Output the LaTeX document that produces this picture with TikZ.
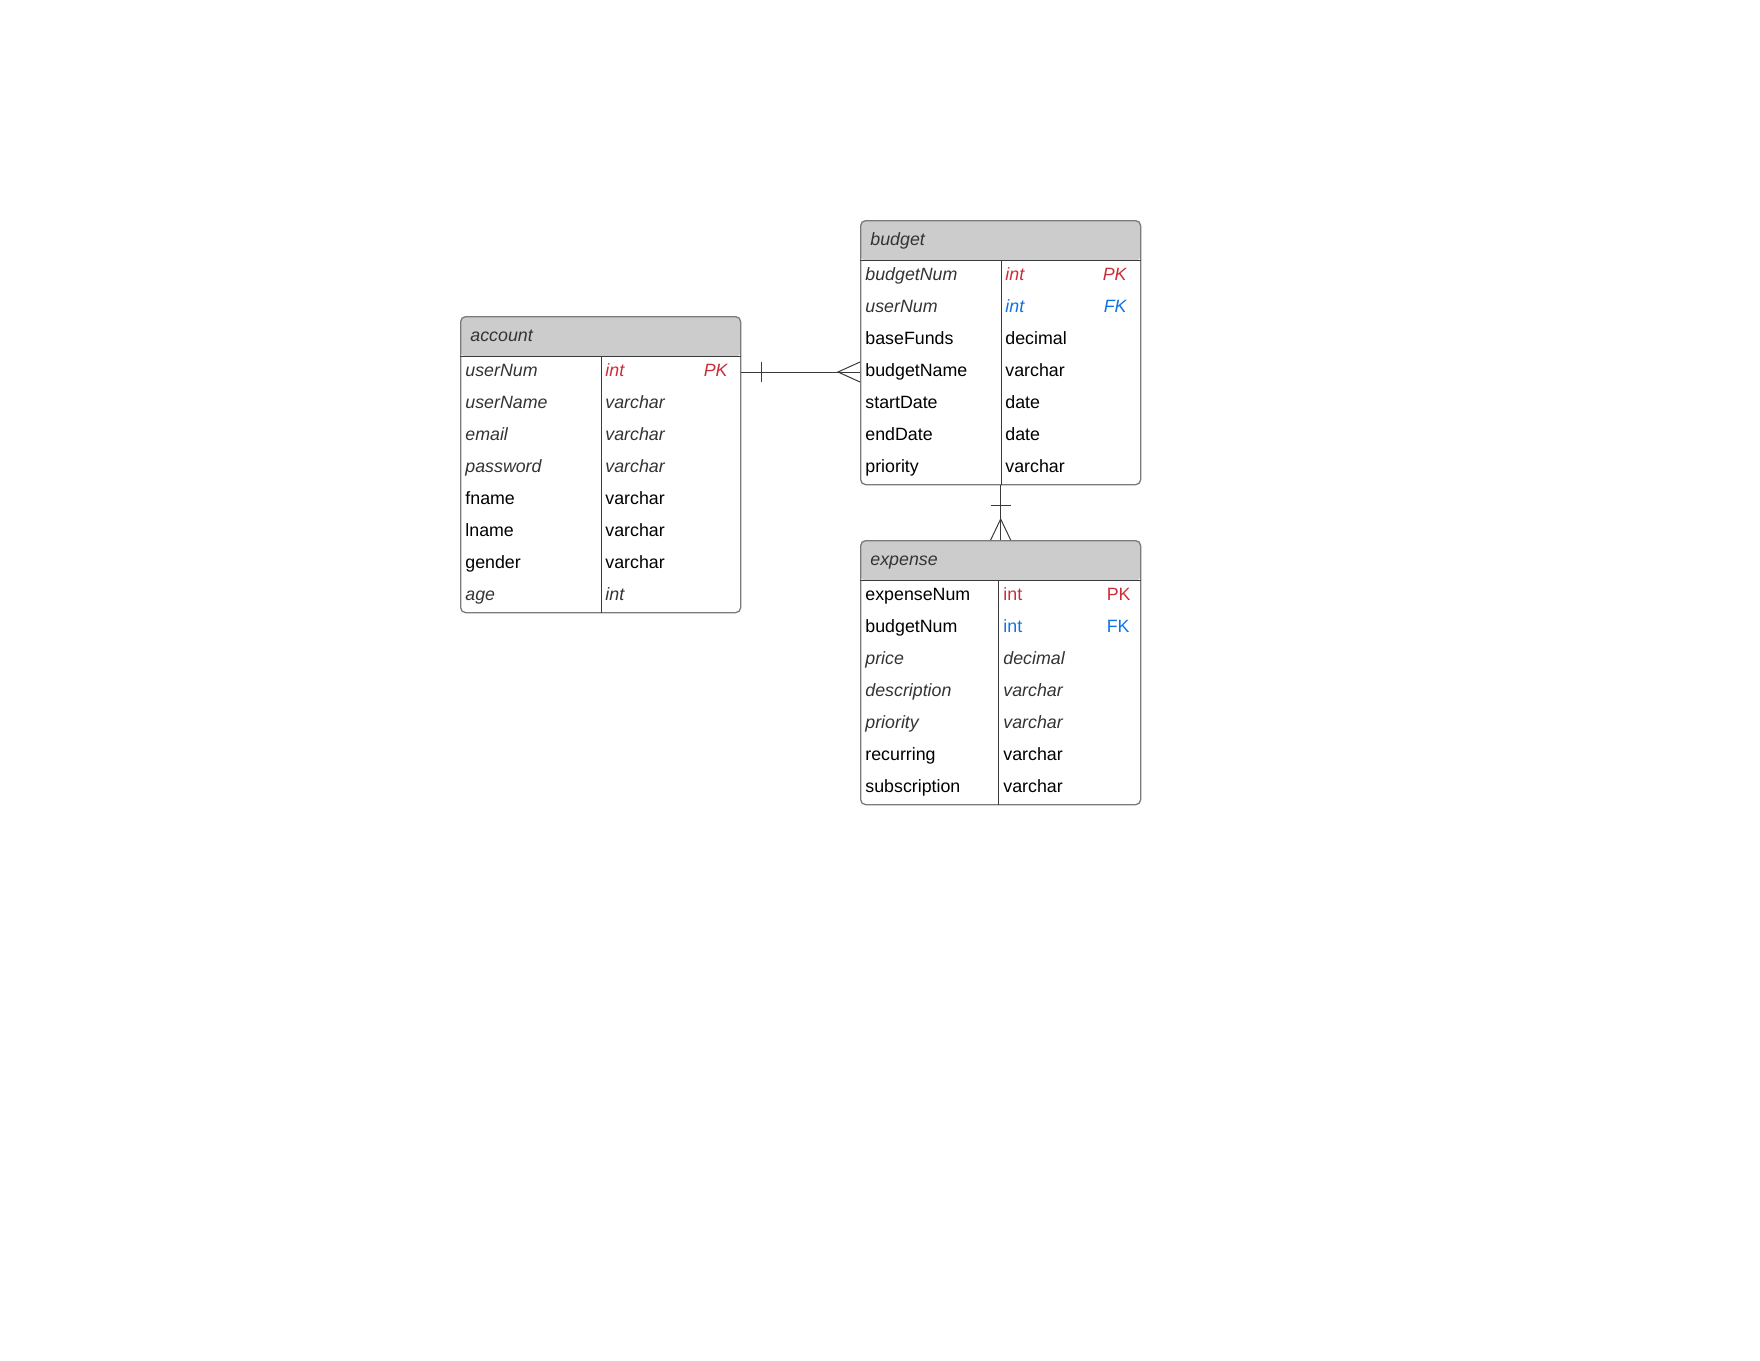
\documentclass[tikz,border=0pt]{standalone}
\usepackage{fontspec}
\setmainfont{Liberation Sans}
\usetikzlibrary{calc}
\definecolor{pkred}{HTML}{C92D39}
\definecolor{fkblue}{HTML}{1071E5}
\definecolor{hdrgray}{HTML}{CCCCCC}
\definecolor{txtgray}{HTML}{333333}
\definecolor{bordergray}{HTML}{7A7A7A}
\definecolor{linegray}{HTML}{3A3A3A}
\begin{document}
\begin{tikzpicture}[x=0.5pt,y=-0.5pt,
  tbl/.style={draw=bordergray, line width=0.65pt, rounded corners=2.5pt,
    minimum width=140pt, minimum height=#1, inner sep=0pt, anchor=north west,
    path picture={\fill[hdrgray] (path picture bounding box.north west) rectangle ([yshift=-20pt]path picture bounding box.north east);}},
  sep/.style={draw=linegray, line width=0.45pt},
  conn/.style={draw=linegray, line width=0.5pt},
  cell/.style={inner sep=0pt, anchor=base west},
  fr/.style={cell, text=black, font=\fontsize{8.9pt}{10.7pt}\selectfont},
  fi/.style={cell, text=txtgray, font=\fontsize{8.9pt}{10.7pt}\selectfont\itshape},
  hdr/.style={fi},
  keyr/.style={inner sep=0pt, anchor=base east, font=\fontsize{8.9pt}{10.7pt}\selectfont},
  keyi/.style={inner sep=0pt, anchor=base east, font=\fontsize{8.9pt}{10.7pt}\selectfont\itshape},
]
\useasboundingbox (0,0) rectangle (1760,1360);

% ---------- account ----------
\node[tbl=148pt] (account) at (460,316) {};
\draw[sep] ([yshift=-20pt]account.north west) -- ([yshift=-20pt]account.north east);
\draw[sep] ([xshift=70.5pt,yshift=-20pt]account.north west) -- ([xshift=70.5pt]account.south west);
\node[hdr] (account-h) at (470,341) {account};
\node[fi] (a-n1) at (465,376.5) {userNum};
\node[fi, text=pkred] (a-t1) at (605,376.5) {int};
\node[keyi, text=pkred] (a-k1) at (728,376.5) {PK};
\node[fi] (a-n2) at (465,408.5) {userName};
\node[fi] (a-t2) at (605,408.5) {varchar};
\node[fi] (a-n3) at (465,440.5) {email};
\node[fi] (a-t3) at (605,440.5) {varchar};
\node[fi] (a-n4) at (465,472.5) {password};
\node[fi] (a-t4) at (605,472.5) {varchar};
\node[fr] (a-n5) at (465,504.5) {fname};
\node[fr] (a-t5) at (605,504.5) {varchar};
\node[fr] (a-n6) at (465,536.5) {lname};
\node[fr] (a-t6) at (605,536.5) {varchar};
\node[fr] (a-n7) at (465,568.5) {gender};
\node[fr] (a-t7) at (605,568.5) {varchar};
\node[fi] (a-n8) at (465,600.5) {age};
\node[fi] (a-t8) at (605,600.5) {int};

% ---------- budget ----------
\node[tbl=132pt] (budget) at (860,220) {};
\draw[sep] ([yshift=-20pt]budget.north west) -- ([yshift=-20pt]budget.north east);
\draw[sep] ([xshift=70.5pt,yshift=-20pt]budget.north west) -- ([xshift=70.5pt]budget.south west);
\node[hdr] (budget-h) at (870,245) {budget};
\node[fi] (b-n1) at (865,280.5) {budgetNum};
\node[fi, text=pkred] (b-t1) at (1005,280.5) {int};
\node[keyi, text=pkred] (b-k1) at (1127,280.5) {PK};
\node[fi] (b-n2) at (865,312.5) {userNum};
\node[fi, text=fkblue] (b-t2) at (1005,312.5) {int};
\node[keyi, text=fkblue] (b-k2) at (1127,312.5) {FK};
\node[fr] (b-n3) at (865,344.5) {baseFunds};
\node[fr] (b-t3) at (1005,344.5) {decimal};
\node[fr] (b-n4) at (865,376.5) {budgetName};
\node[fr] (b-t4) at (1005,376.5) {varchar};
\node[fr] (b-n5) at (865,408.5) {startDate};
\node[fr] (b-t5) at (1005,408.5) {date};
\node[fr] (b-n6) at (865,440.5) {endDate};
\node[fr] (b-t6) at (1005,440.5) {date};
\node[fr] (b-n7) at (865,472.5) {priority};
\node[fr] (b-t7) at (1005,472.5) {varchar};

% ---------- expense ----------
\node[tbl=132pt] (expense) at (860,540) {};
\draw[sep] ([yshift=-20pt]expense.north west) -- ([yshift=-20pt]expense.north east);
\draw[sep] ([xshift=69pt,yshift=-20pt]expense.north west) -- ([xshift=69pt]expense.south west);
\node[hdr] (expense-h) at (870,565) {expense};
\node[fr] (e-n1) at (865,600.5) {expenseNum};
\node[fr, text=pkred] (e-t1) at (1003,600.5) {int};
\node[keyr, text=pkred] (e-k1) at (1131,600.5) {PK};
\node[fr] (e-n2) at (865,632.5) {budgetNum};
\node[fr, text=fkblue] (e-t2) at (1003,632.5) {int};
\node[keyr, text=fkblue] (e-k2) at (1130,632.5) {FK};
\node[fi] (e-n3) at (865,664.5) {price};
\node[fi] (e-t3) at (1003,664.5) {decimal};
\node[fi] (e-n4) at (865,696.5) {description};
\node[fi] (e-t4) at (1003,696.5) {varchar};
\node[fi] (e-n5) at (865,728.5) {priority};
\node[fi] (e-t5) at (1003,728.5) {varchar};
\node[fr] (e-n6) at (865,760.5) {recurring};
\node[fr] (e-t6) at (1003,760.5) {varchar};
\node[fr] (e-n7) at (865,792.5) {subscription};
\node[fr] (e-t7) at (1003,792.5) {varchar};

% ---------- account (one) -- budget (many) ----------
\coordinate (c1a) at ($(account.north east)+(0,56)$);
\coordinate (c1b) at ($(budget.north west)+(0,152)$);
\draw[conn] (c1a) -- (c1b);
\draw[conn] ($(c1a)+(20,-10)$) -- ($(c1a)+(20,10)$);
\draw[conn] ($(c1b)+(0,-10)$) -- ($(c1b)+(-22,0)$) -- ($(c1b)+(0,10)$);

% ---------- budget (one) -- expense (many) ----------
\draw[conn] (budget.south) -- (expense.north);
\draw[conn] ($(budget.south)+(-10,20)$) -- ($(budget.south)+(10,20)$);
\draw[conn] ($(expense.north)+(-10,0)$) -- ($(expense.north)+(0,-21)$) -- ($(expense.north)+(10,0)$);
\end{tikzpicture}
\end{document}
